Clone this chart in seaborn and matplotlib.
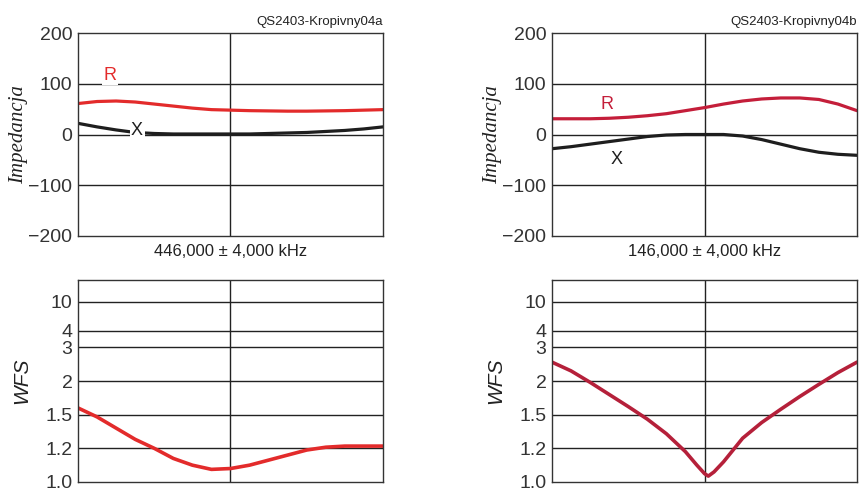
import numpy as np
import pandas as pd
import seaborn as sns
import matplotlib.pyplot as plt

# =========================
# Datos
# =========================
freq = [-4, -3.5, -3, -2.5, -2, -1.5, -1, -0.5, 0, 0.5, 1, 1.5, 2, 2.5, 3, 3.5, 4]

r_a = [61, 65, 66, 64, 60, 56, 52, 49, 48, 47, 46.5, 46, 46, 46.5, 47, 48, 49]
x_a = [22, 15, 9, 4, 2, 1, 1, 1, 1, 1, 2, 3, 4, 6, 8, 11, 15]
r_b = [31, 31, 31, 32, 34, 37, 41, 47, 53, 60, 66, 70, 72, 72, 69, 60, 47]
x_b = [-28, -24, -19, -14, -9, -4, -1, 0, 0, 0, -3, -10, -19, -28, -35, -39, -41]

wfs_a = [1.60, 1.48, 1.38, 1.28, 1.20, 1.14, 1.10, 1.075, 1.08, 1.10, 1.13, 1.16,
         1.19, 1.21, 1.22, 1.22, 1.22]
freq_wb = [-4, -3.5, -3, -2.5, -2, -1.5, -1, -0.5, -0.2, 0, 0.1, 0.25, 0.5, 1,
           1.5, 2, 2.5, 3, 3.5, 4]
wfs_b = [2.56, 2.30, 1.98, 1.80, 1.62, 1.46, 1.33, 1.18, 1.10, 1.05, 1.035, 1.06,
         1.12, 1.29, 1.43, 1.58, 1.77, 1.95, 2.25, 2.56]

titles = ["QS2403-Kropivny04a", "QS2403-Kropivny04b"]
centers = ["446,000 ± 4,000 kHz", "146,000 ± 4,000 kHz"]
imp_ticks = [-200, -100, 0, 100, 200]
wfs_ticks = [1.0, 1.2, 1.5, 2, 3, 4, 10]
wfs_labels = ["1.0", "1.2", "1.5", "2", "3", "4", "10"]

# escala no lineal del eje WFS (posiciones de la rejilla)
wfs_pts = [1.0, 1.2, 1.5, 2, 3, 4, 10, 20]
wfs_pos = [0, 1, 2, 3, 4, 4.5, 5.35, 6.0]


def fwd(v):
    return np.interp(v, wfs_pts, wfs_pos)


def inv(p):
    return np.interp(p, wfs_pos, wfs_pts)


sns.set_theme(style="white")
plt.rcParams['font.family'] = ['Liberation Sans', 'DejaVu Sans']

fig = plt.figure(figsize=(8.62, 4.93), dpi=100)

lefts = [78 / 862, 552 / 862]
w = 305 / 862
top_b, top_h = 257 / 493, 203 / 493
bot_b, bot_h = 11 / 493, 202 / 493

edge = "#333333"
tick_col = "#333333"

data_top = [(r_a, x_a, "#e32b2b"), (r_b, x_b, "#c41e3a")]
labels_pos = [((-3.15, 117), (-2.45, 7)), ((-2.55, 60), (-2.3, -50))]
data_bot = [(freq, wfs_a, "#e32b2b"), (freq_wb, wfs_b, "#b5203a")]

for i in range(2):
    # ===== Impedancja =====
    ax = fig.add_axes([lefts[i], top_b, w, top_h])
    r, x, rc = data_top[i]
    df = pd.DataFrame({"f": freq, "R": r, "X": x})
    sns.lineplot(data=df, x="f", y="R", color=rc, lw=2.3, ax=ax)
    sns.lineplot(data=df, x="f", y="X", color="#1e1e1e", lw=2.3, ax=ax)
    ax.set_xlim(-4, 4)
    ax.set_ylim(-200, 200)
    ax.set_yticks(imp_ticks)
    ax.set_yticklabels([str(t).replace("-", "\u2212") for t in imp_ticks])
    ax.set_xticks([])
    for yv in [-100, 0, 100]:
        ax.axhline(yv, color="#222222", lw=1.0, zorder=1)
    ax.axvline(0, color="#222222", lw=1.0, zorder=1)
    (rx, ry), (xx, xy) = labels_pos[i]
    ax.text(rx, ry, "R", color=rc, fontsize=13, ha="center", va="center",
            bbox=dict(facecolor="white", edgecolor="none", pad=1), zorder=5)
    ax.text(xx, xy, "X", color="#1e1e1e", fontsize=13, ha="center", va="center",
            bbox=dict(facecolor="white", edgecolor="none", pad=1), zorder=5)
    ax.set_xlabel(centers[i], fontsize=12, color="#222222", labelpad=6)
    ax.set_ylabel("Impedancja", fontsize=15, fontstyle="italic",
                  family=["Liberation Serif", "DejaVu Serif"], color="#222222", labelpad=0)
    ax.set_title(titles[i], loc="right", fontsize=9.5, color="#222222", pad=6)
    ax.tick_params(axis="y", labelsize=14, colors=tick_col, length=0, pad=4)
    for s in ax.spines.values():
        s.set_color(edge)
        s.set_linewidth(1.0)

    # ===== WFS =====
    ax2 = fig.add_axes([lefts[i], bot_b, w, bot_h])
    ax2.set_yscale("function", functions=(fwd, inv))
    fx, wv, wc = data_bot[i]
    dfw = pd.DataFrame({"f": fx, "WFS": wv})
    sns.lineplot(data=dfw, x="f", y="WFS", color=wc, lw=2.6, ax=ax2)
    ax2.set_xlim(-4, 4)
    ax2.set_ylim(1.0, 20)
    ax2.set_yticks(wfs_ticks)
    ax2.set_yticklabels(wfs_labels)
    ax2.minorticks_off()
    ax2.set_xticks([])
    for yv in wfs_ticks[1:]:
        ax2.axhline(yv, color="#222222", lw=1.0, zorder=1)
    ax2.axvline(0, color="#222222", lw=1.0, zorder=1)
    ax2.set_xlabel("")
    ax2.set_ylabel("WFS", fontsize=15, fontstyle="italic", color="#222222", labelpad=10)
    ax2.tick_params(axis="y", labelsize=14, colors=tick_col, length=0, pad=4)
    for s in ax2.spines.values():
        s.set_color(edge)
        s.set_linewidth(1.0)

fig.savefig("out.png", dpi=100)
